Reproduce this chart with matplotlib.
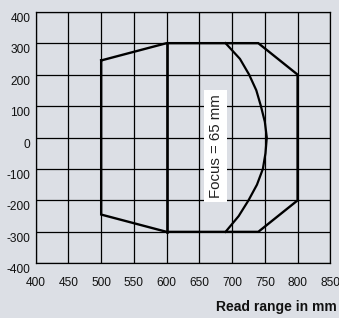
import matplotlib.pyplot as plt
import matplotlib.transforms as mtransforms

# ----------
# Data
# ----------
outline_x = [500, 600, 740, 800, 800, 740, 600, 500, 500]
outline_y = [245, 300, 300, 200, -200, -300, -300, -245, 245]

divider_x = [600, 600]
divider_y = [300, -300]

focus_y = [300, 250, 200, 150, 100, 50, 0, -50, -100, -150, -200, -250, -300]
focus_x = [690, 712, 726, 737, 744, 750, 753, 751, 747, 738, 725, 710, 690]

x_ticks = [400, 450, 500, 550, 600, 650, 700, 750, 800, 850]
y_ticks = [400, 300, 200, 100, 0, -100, -200, -300, -400]

focus_label = "Focus = 65 mm"
x_label = "Read range in mm"

bg = "#dcdfe5"
font = ["Liberation Sans", "DejaVu Sans"]

fig = plt.figure(figsize=(3.39, 3.18), dpi=100, facecolor=bg)
ax = fig.add_axes([0.1053, 0.172, 0.869, 0.7912])
ax.set_facecolor(bg)

ax.plot(outline_x, outline_y, color="black", lw=1.7, solid_joinstyle="miter", zorder=3)
ax.plot(divider_x, divider_y, color="black", lw=1.9, zorder=3)
ax.plot(focus_x, focus_y, color="black", lw=1.6, zorder=3)

ax.text(675, -27, focus_label, rotation=90, ha="center", va="center",
        family=font, fontsize=10.8, color="#222222", zorder=4,
        bbox=dict(boxstyle="square,pad=0.3", fc="white", ec="none"))

ax.set_xlim(400, 850)
ax.set_ylim(-400, 400)
ax.set_xticks(x_ticks)
ax.set_yticks(y_ticks)
ax.set_xticklabels([str(v) for v in x_ticks], family=font, fontsize=8.6)
ax.set_yticklabels([str(v) for v in y_ticks], family=font, fontsize=8.6)
ax.tick_params(length=0, colors="#111111")
ax.tick_params(axis="x", pad=10)
ax.tick_params(axis="y", pad=4)
ax.grid(True, color="black", lw=0.9)
ax.set_axisbelow(True)
for s in ax.spines.values():
    s.set_color("black")
    s.set_linewidth(0.9)

# y labels sit a little below their grid lines
shift = mtransforms.ScaledTranslation(0, -4 / 72, fig.dpi_scale_trans)
for lab in ax.get_yticklabels():
    lab.set_transform(lab.get_transform() + shift)

fig.text(0.993, 0.035, x_label, ha="right", va="center", family=font,
         fontsize=10, fontweight="bold", color="#111111")

plt.savefig("out.png", dpi=100, facecolor=bg)
